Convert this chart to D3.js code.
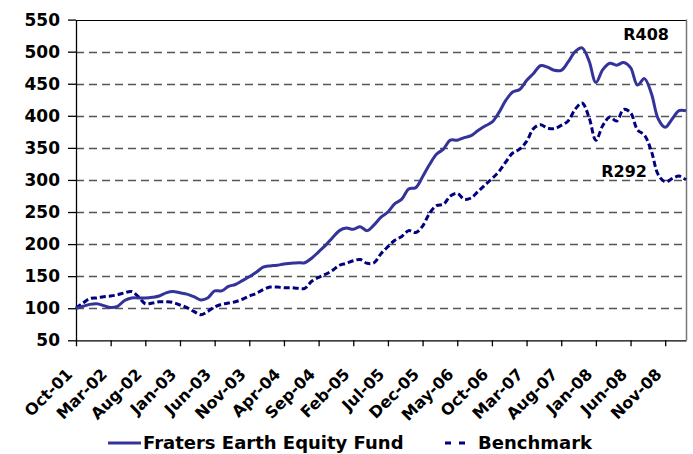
<!DOCTYPE html>
<html>
<head>
<meta charset="utf-8">
<script src="https://cdn.jsdelivr.net/npm/d3@7"></script>
<style>
  body { margin: 0; background: #fff; }
  text { font-family: "DejaVu Sans", Verdana, sans-serif; font-weight: bold; }
</style>
</head>
<body>
<script>
// monthly values, Oct-01 .. Feb-09
var fund = [100, 103, 106, 107, 104, 101, 103, 112, 116, 116,
    116, 117, 119, 124, 126, 124, 122, 118, 113, 116,
    127, 127, 134, 137, 143, 149, 156, 164, 166, 167,
    169, 170, 171, 171, 178, 188, 198, 210, 221, 225,
    223, 227, 221, 230, 242, 250, 263, 270, 286, 288,
    305, 324, 340, 348, 362, 362, 366, 369, 377, 384,
    390, 405, 424, 437, 441, 455, 466, 478, 476, 471,
    471, 484, 500, 506, 486, 452, 472, 482, 479, 483,
    475, 448, 458, 435, 395, 382, 395, 408, 408];
var bench = [100, 108, 115, 116, 118, 119, 121, 124, 126, 118,
    107, 108, 110, 110, 109, 105, 101, 95, 90, 95,
    102, 106, 108, 110, 114, 119, 123, 129, 133, 133,
    132, 132, 131, 131, 142, 148, 153, 159, 167, 170,
    174, 176, 170, 171, 185, 196, 206, 212, 221, 218,
    228, 248, 260, 262, 275, 279, 270, 272, 282, 292,
    302, 313, 328, 342, 348, 360, 380, 386, 381, 380,
    385, 392, 410, 420, 398, 362, 385, 398, 392, 410,
    405, 378, 370, 345, 308, 297, 302, 306, 300];
var tickLabels = ["Oct-01", "Mar-02", "Aug-02", "Jan-03", "Jun-03", "Nov-03",
    "Apr-04", "Sep-04", "Feb-05", "Jul-05", "Dec-05", "May-06",
    "Oct-06", "Mar-07", "Aug-07", "Jan-08", "Jun-08", "Nov-08"];
var yTicks = [50, 100, 150, 200, 250, 300, 350, 400, 450, 500, 550];
var seriesNames = ["Fraters Earth Equity Fund", "Benchmark"];
var endLabels = ["R408", "R292"];

var w = 693, h = 454;
var pLeft = 76, pRight = 686, pTop = 19.6, pBottom = 340.3;
var fundColor = "#333399", benchColor = "#000080";

var svg = d3.select("body").append("svg")
    .attr("width", w)
    .attr("height", h);

var x = d3.scaleLinear().domain([0, fund.length - 1]).range([pLeft, pRight]);
var y = d3.scaleLinear().domain([50, 550]).range([pBottom, pTop]);

// grid
svg.append("g").selectAll("line")
    .data(yTicks.slice(1, -1))
    .enter().append("line")
    .attr("x1", pLeft).attr("x2", pRight)
    .attr("y1", function (d) { return Math.round(y(d)) + 0.5; })
    .attr("y2", function (d) { return Math.round(y(d)) + 0.5; })
    .attr("stroke", "#555")
    .attr("stroke-width", 1.3)
    .attr("stroke-dasharray", "8,5");

// plot frame (top and right)
svg.append("line").attr("x1", pLeft).attr("x2", pRight)
    .attr("y1", Math.round(y(550)) + 0.5).attr("y2", Math.round(y(550)) + 0.5)
    .attr("stroke", "#000");
svg.append("line").attr("x1", pRight + 0.5).attr("x2", pRight + 0.5)
    .attr("y1", y(550)).attr("y2", y(50))
    .attr("stroke", "#777").attr("stroke-width", 1.5);

// y axis
var yAxis = svg.append("g")
    .attr("transform", "translate(" + pLeft + ",0)")
    .call(d3.axisLeft(y).tickValues(yTicks).tickSize(8).tickPadding(8).tickSizeOuter(0));
yAxis.selectAll("text").attr("font-size", 17).attr("fill", "#000")
    .style("font-family", "'DejaVu Sans', sans-serif").style("font-weight", "bold");
yAxis.selectAll("line, path").attr("stroke", "#000").attr("stroke-width", 1.3);

// x axis
var xTickVals = tickLabels.map(function (d, i) { return i * 5; });
var xAxis = svg.append("g")
    .attr("transform", "translate(0," + pBottom + ")")
    .call(d3.axisBottom(x).tickValues(xTickVals).tickSize(6).tickSizeOuter(0)
        .tickFormat(function (d, i) { return tickLabels[i]; }));
xAxis.selectAll("line, path").attr("stroke", "#000").attr("stroke-width", 1.3);
xAxis.selectAll("text")
    .attr("font-size", 16).attr("fill", "#000")
    .style("font-family", "'DejaVu Sans', sans-serif").style("font-weight", "bold")
    .attr("text-anchor", "end")
    .attr("dy", "0.35em")
    .attr("y", 0)
    .attr("transform", "translate(-7,31) rotate(-45)");

// lines
var line = d3.line()
    .x(function (d, i) { return x(i); })
    .y(function (d) { return y(d); })
    .curve(d3.curveCatmullRom.alpha(0.5));

svg.append("path").datum(bench)
    .attr("d", line)
    .attr("fill", "none")
    .attr("stroke", benchColor)
    .attr("stroke-width", 3)
    .attr("stroke-dasharray", "6,3");

svg.append("path").datum(fund)
    .attr("d", line)
    .attr("fill", "none")
    .attr("stroke", fundColor)
    .attr("stroke-width", 3);

// end labels
svg.append("text").attr("x", 669).attr("y", 40).attr("text-anchor", "end")
    .attr("font-size", 16).text(endLabels[0]);
svg.append("text").attr("x", 647).attr("y", 177).attr("text-anchor", "end")
    .attr("font-size", 16).text(endLabels[1]);

// legend
var lg = svg.append("g");
lg.append("line").attr("x1", 108).attr("x2", 141).attr("y1", 443).attr("y2", 443)
    .attr("stroke", fundColor).attr("stroke-width", 3);
lg.append("text").attr("x", 143).attr("y", 449).attr("font-size", 18).text(seriesNames[0]);
lg.append("line").attr("x1", 445).attr("x2", 470).attr("y1", 443).attr("y2", 443)
    .attr("stroke", benchColor).attr("stroke-width", 3).attr("stroke-dasharray", "6,8");
lg.append("text").attr("x", 478).attr("y", 449).attr("font-size", 18).text(seriesNames[1]);
</script>
</body>
</html>
